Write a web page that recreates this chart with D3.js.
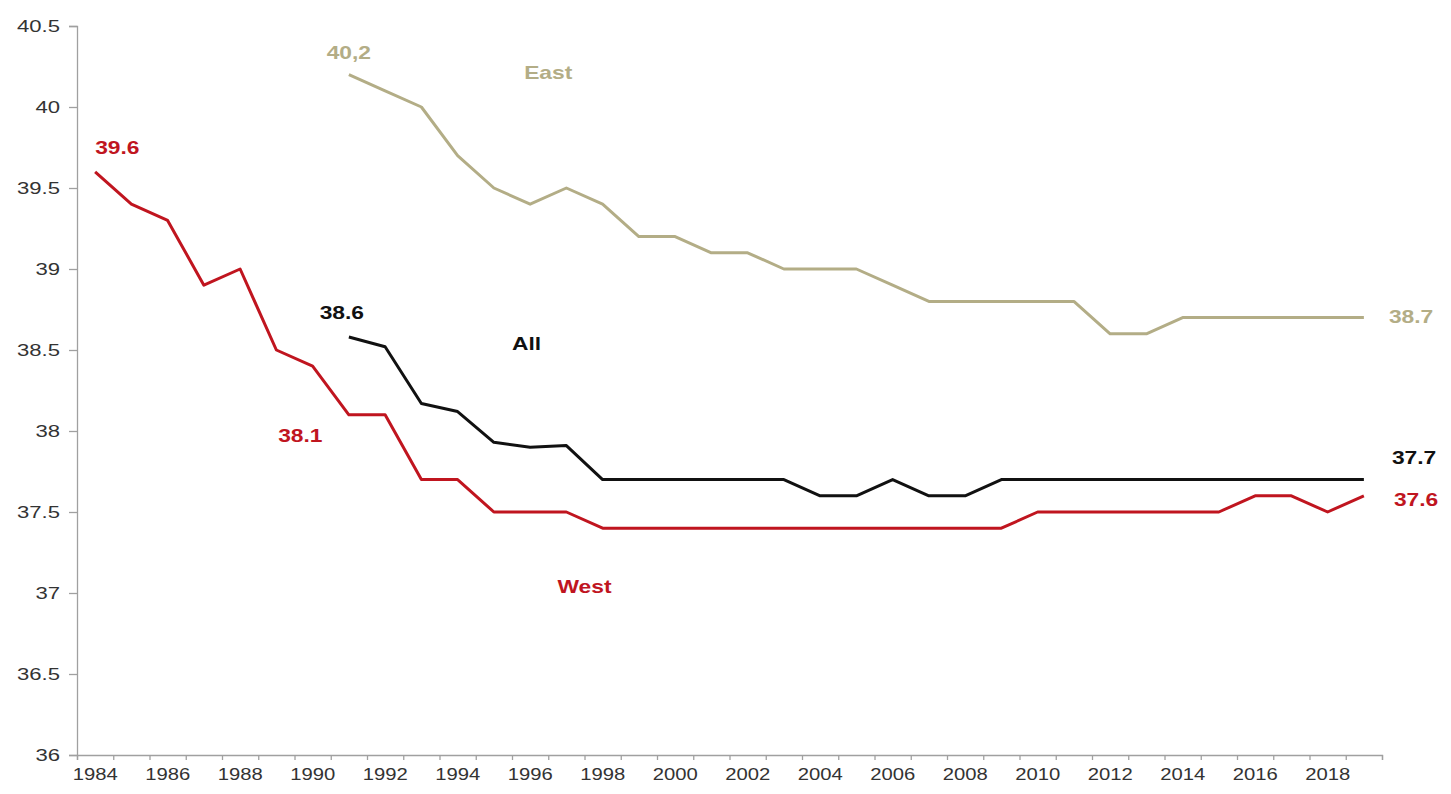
<!DOCTYPE html>
<html>
<head>
<meta charset="utf-8">
<script src="https://cdn.jsdelivr.net/npm/d3@7/dist/d3.min.js"></script>
<style>
    body { margin: 0; background: #fff; }
    text { font-family: "Liberation Sans", Arial, sans-serif; }
</style>
</head>
<body>
<svg id="chart" width="1451" height="794"></svg>
<script>
// years on the category axis
var years = d3.range(1984, 2020);
var yTicks = [36, 36.5, 37, 37.5, 38, 38.5, 39, 39.5, 40, 40.5];

// West: 1984 - 2019
var westYears = d3.range(1984, 2020);
var westValues = [39.6, 39.4, 39.3, 38.9, 39.0, 38.5, 38.4, 38.1, 38.1, 37.7,
    37.7, 37.5, 37.5, 37.5, 37.4, 37.4, 37.4, 37.4, 37.4, 37.4,
    37.4, 37.4, 37.4, 37.4, 37.4, 37.4, 37.5, 37.5, 37.5, 37.5,
    37.5, 37.5, 37.6, 37.6, 37.5, 37.6];

// All and East: 1991 - 2019
var allYears = d3.range(1991, 2020);
var allValues = [38.58, 38.52, 38.17, 38.12, 37.93, 37.9, 37.91, 37.7, 37.7, 37.7,
    37.7, 37.7, 37.7, 37.6, 37.6, 37.7, 37.6, 37.6, 37.7, 37.7,
    37.7, 37.7, 37.7, 37.7, 37.7, 37.7, 37.7, 37.7, 37.7];

var eastYears = d3.range(1991, 2020);
var eastValues = [40.2, 40.1, 40.0, 39.7, 39.5, 39.4, 39.5, 39.4, 39.2, 39.2,
    39.1, 39.1, 39.0, 39.0, 39.0, 38.9, 38.8, 38.8, 38.8, 38.8,
    38.8, 38.6, 38.6, 38.7, 38.7, 38.7, 38.7, 38.7, 38.7];

var colors = {west: "#c0151f", all: "#111111", east: "#b3ad86"};

var svg = d3.select("#chart");
var plotLeft = 77, plotRight = 1382, plotTop = 26, plotBottom = 755;

var x = d3.scaleBand().domain(years).range([plotLeft, plotRight]).padding(0);
var xEdge = d3.scaleLinear().domain([1984, 2020]).range([plotLeft, plotRight]);
var y = d3.scaleLinear().domain([36, 40.5]).range([plotBottom, plotTop]);

function cx(yr){ return x(yr) + x.bandwidth()/2; }

// stretch text horizontally like the source picture
function stretch(sel, f){
    sel.each(function(){
        var w = this.getComputedTextLength();
        d3.select(this).attr("textLength", w * f).attr("lengthAdjust", "spacingAndGlyphs");
    });
}

// y axis
var yAxis = svg.append("g")
    .attr("transform", "translate(" + plotLeft + ",0)")
    .call(d3.axisLeft(y).tickValues(yTicks).tickSize(8).tickPadding(9).tickFormat(d3.format("~g")));
yAxis.select(".domain").attr("stroke", "#a0a0a0").attr("stroke-width", 1.3);
yAxis.selectAll(".tick line").attr("stroke", "#a0a0a0").attr("stroke-width", 1.3);
yAxis.selectAll(".tick text")
    .style("font-size", "16px")
    .attr("fill", "#333");
stretch(yAxis.selectAll(".tick text"), 1.38);

// x axis: tick marks on category edges
var xTickAxis = svg.append("g")
    .attr("transform", "translate(0," + plotBottom + ")")
    .call(d3.axisBottom(xEdge).tickValues(d3.range(1984, 2021)).tickSize(5).tickFormat(""));
xTickAxis.select(".domain").attr("stroke", "#a0a0a0").attr("stroke-width", 1.3);
xTickAxis.selectAll(".tick line").attr("stroke", "#a0a0a0").attr("stroke-width", 1.3);

// x labels every other year
var xLabAxis = svg.append("g")
    .attr("transform", "translate(0," + plotBottom + ")")
    .call(d3.axisBottom(x).tickValues(years.filter(function(d){ return d % 2 === 0; })).tickSize(0).tickPadding(13));
xLabAxis.select(".domain").remove();
xLabAxis.selectAll(".tick text")
    .style("font-size", "17px")
    .attr("fill", "#333");
stretch(xLabAxis.selectAll(".tick text"), 1.19);

// lines
var line = d3.line()
    .x(function(d){ return cx(d[0]); })
    .y(function(d){ return y(d[1]); });

var series = [
    {key: "east", yrs: eastYears, vals: eastValues},
    {key: "west", yrs: westYears, vals: westValues},
    {key: "all", yrs: allYears, vals: allValues}
];

series.forEach(function(s){
    svg.append("path")
        .datum(d3.zip(s.yrs, s.vals))
        .attr("d", line)
        .attr("fill", "none")
        .attr("stroke", colors[s.key])
        .attr("stroke-width", 3)
        .attr("stroke-linejoin", "round");
});

// annotations
var labels = [
    {t: "40,2", px: cx(1991), py: y(40.2) - 16, a: "middle", c: "east"},
    {t: "East", px: x(1997), py: y(40.17), a: "middle", c: "east"},
    {t: "39.6", px: cx(1984), py: y(39.6) - 18, a: "start", c: "west"},
    {t: "38.6", px: cx(1991) - 7, py: y(38.58) - 18, a: "middle", c: "all"},
    {t: "All", px: x(1996), py: y(38.5), a: "start", c: "all"},
    {t: "38.1", px: cx(1989) + 24, py: y(38.1) + 27, a: "middle", c: "west"},
    {t: "West", px: x(1998), py: y(37), a: "middle", c: "west"},
    {t: "38.7", px: cx(2019) + 25, py: y(38.7) + 5, a: "start", c: "east"},
    {t: "37.7", px: cx(2019) + 28, py: y(37.7) - 16, a: "start", c: "all"},
    {t: "37.6", px: cx(2019) + 30, py: y(37.6) + 10, a: "start", c: "west"}
];

var lab = svg.append("g").selectAll("text")
    .data(labels)
    .enter()
    .append("text")
    .attr("x", function(d){ return d.px; })
    .attr("y", function(d){ return d.py; })
    .attr("text-anchor", function(d){ return d.a; })
    .attr("fill", function(d){ return colors[d.c]; })
    .style("font-size", "19px")
    .style("font-weight", "bold")
    .text(function(d){ return d.t; });
stretch(lab, 1.2);
</script>
</body>
</html>
